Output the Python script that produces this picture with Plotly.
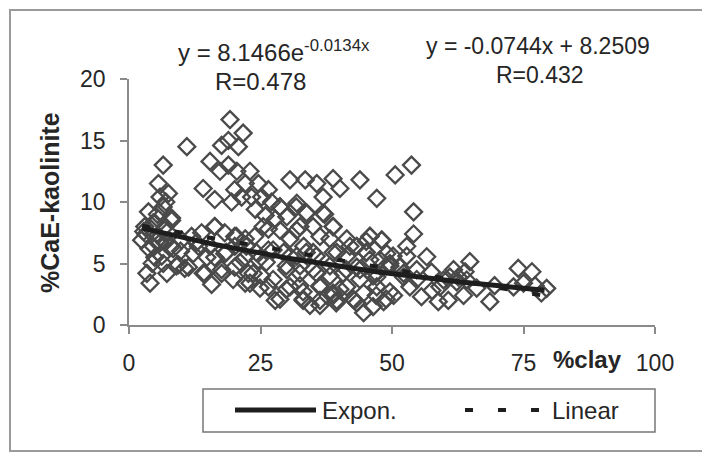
import numpy as np
import plotly.graph_objects as go

# Sample data: clay content (%) and CaE-kaolinite (%)
clay_pct = [
    # low-clay samples
    19.2, 21.7, 11.0, 18.9, 17.6, 20.8, 6.5, 15.4, 17.3, 18.9, 20.5, 23.0, 14.1, 16.3,
    5.6, 5.9, 7.5, 6.5, 8.1, 3.7, 4.9, 3.0, 2.4, 4.6, 6.8, 8.4, 4.9, 6.5, 9.4, 11.3,
    14.4, 3.4, 4.0, 15.7, 16.3, 13.8, 11.9, 18.2, 20.1, 22.1, 23.9, 20.1, 18.2, 16.3,
    22.1, 24.6, 26.5, 20.1, 22.7, 25.2, 17.6, 22.1, 26.5, 27.8, 20.1, 22.1, 24.6, 21.4,
    19.5, 23.3, 25.2, 26.5, 27.1, 24.0, 25.9, 27.8, 10.0, 13.2, 14.8, 26.5,
    3.2, 4.2, 5.5, 3.8, 5.2, 7.3, 4.4, 6.9, 5.4, 7.0, 2.8, 9.8, 12.2, 10.6,
    # mid-clay samples
    30.6, 33.5, 35.7, 38.8, 40.1, 43.9, 50.6, 53.7, 47.1, 54.1, 36.9, 36.9, 31.9, 33.8,
    28.7, 30.0, 38.8, 35.0, 31.9, 45.8, 48.1, 54.1, 52.8, 41.4, 43.3, 38.2, 36.3, 33.2,
    30.6, 29.4, 31.9, 35.0, 39.5, 41.4, 45.1, 47.7, 50.2, 30.0, 32.5, 35.7, 38.2, 40.7,
    43.9, 46.4, 48.9, 52.2, 54.7, 30.6, 33.1, 36.3, 38.8, 41.4, 44.6, 47.1, 49.6, 33.1,
    36.3, 39.5, 43.3, 44.6, 46.4, 45.1, 52.8,
    # infill of the dense band
    28.7, 31.8, 33.7, 37.2, 16.3, 20.4, 25.5, 28.7, 32.5, 38.8, 45.8, 48.0, 12.8, 15.4,
    18.5, 22.3, 24.2, 27.4, 30.6, 33.7, 35.6, 38.8, 42.0, 45.1, 9.0, 14.1, 17.6, 21.1,
    23.6, 26.1, 27.4, 29.9, 32.5, 35.0, 38.2, 41.3, 43.9, 47.0, 49.6, 7.2, 19.8, 23.0,
    24.9, 28.7, 29.9, 33.1, 34.4, 36.3, 38.8, 39.4, 42.6, 47.0, 48.9, 32.5, 36.3, 40.1,
    5.9, 8.1, 6.2, 8.1, 4.6,
    # high-clay samples
    56.6, 64.8, 63.9, 74.0, 76.6, 79.4, 78.4, 68.6, 73.1, 61.0, 59.1, 55.6, 58.8, 60.7,
    63.6, 66.1, 53.4, 50.3, 48.4, 42.9, 52.2, 54.7, 57.5, 61.7, 47.1, 49.6, 45.8, 43.3,
    51.5, 49.0, 59.8, 75.0, 77.2, 62.3, 64.2, 57.6, 62.6, 69.5,
]
caE_kaolinite = [
    16.7, 15.6, 14.5, 15.0, 14.6, 14.5, 13.0, 13.3, 12.5, 13.0, 12.5, 12.5, 11.1, 10.2,
    11.5, 10.4, 10.7, 9.6, 8.7, 9.2, 8.3, 8.0, 6.9, 6.4, 6.7, 6.2, 5.5, 5.0, 4.9, 4.7,
    4.2, 4.2, 3.4, 3.3, 8.0, 7.5, 7.2, 7.5, 7.2, 7.0, 7.2, 6.4, 5.8, 5.5,
    5.5, 5.3, 6.1, 4.7, 4.2, 4.0, 4.2, 3.4, 3.1, 2.0, 11.0, 11.5, 11.5, 10.4,
    10.0, 10.4, 10.4, 11.0, 10.0, 9.4, 8.9, 8.6, 6.9, 6.4, 5.5, 7.8,
    7.4, 7.8, 7.3, 6.2, 6.8, 7.6, 5.0, 8.0, 9.0, 10.0, 7.6, 6.0, 5.8, 4.6,
    11.8, 11.8, 11.5, 11.9, 11.1, 11.8, 12.2, 13.0, 10.3, 9.2, 10.4, 9.1, 9.9, 9.1,
    9.6, 8.8, 8.0, 8.0, 7.7, 7.2, 6.9, 7.4, 6.4, 7.0, 6.4, 7.0, 7.2, 6.4,
    7.0, 5.9, 5.6, 5.9, 5.9, 5.6, 5.9, 5.3, 5.6, 4.5, 4.8, 4.2, 4.8, 4.2,
    4.5, 4.0, 4.8, 4.2, 3.7, 3.1, 2.7, 3.1, 2.6, 3.1, 2.6, 3.1, 2.7, 2.0,
    1.6, 2.0, 1.8, 1.0, 1.5, 6.8, 5.6,
    9.6, 9.6, 9.1, 9.0, 8.0, 7.2, 8.0, 7.7, 8.0, 8.0, 7.2, 6.9, 6.7, 6.4,
    5.9, 6.4, 5.9, 6.1, 5.6, 5.9, 5.6, 5.9, 6.4, 5.9, 4.8, 4.2, 4.5, 5.1,
    4.2, 5.1, 3.7, 4.8, 4.2, 4.5, 4.0, 4.5, 3.7, 4.2, 4.8, 4.2, 3.7, 3.4,
    3.0, 2.1, 2.9, 2.1, 1.6, 2.0, 2.4, 1.8, 2.1, 2.4, 2.1, 3.2, 3.2, 2.9,
    6.7, 6.4, 5.6, 8.5, 8.3,
    5.55, 5.15, 4.33, 4.6, 4.33, 2.98, 2.6, 1.9, 3.1, 3.9, 3.1, 2.3, 1.9, 2.0,
    2.4, 3.0, 3.1, 2.4, 1.9, 2.0, 3.9, 4.5, 4.3, 4.5, 3.9, 5.0, 5.3, 4.7,
    4.7, 5.8, 3.66, 3.4, 3.2, 3.5, 3.66, 2.8, 3.9, 3.2,
]

# Fitted trend lines
exp_a, exp_b = 8.1466, -0.0134
lin_m, lin_c = -0.0744, 8.2509
x_ticks = [0, 25, 50, 75, 100]
y_ticks = [0, 5, 10, 15, 20]

trend_x = np.linspace(2.5, 79, 80)
exp_y = exp_a * np.exp(exp_b * trend_x)
lin_y = lin_m * trend_x + lin_c

W, H = 702, 453
L, R, T, B = 129, 655, 79, 325

def px(x):
    return (x - L) / (R - L)

def py(y):
    return (B - y) / (B - T)

FONT = "Liberation Sans, Arial, sans-serif"
TXT = "#262626"

fig = go.Figure()
fig.add_trace(go.Scatter(
    x=clay_pct, y=caE_kaolinite, mode="markers",
    marker=dict(symbol="diamond-open", size=13, color="#4a4a4a",
                line=dict(width=2.3, color="#4a4a4a")),
    showlegend=False, hoverinfo="skip",
))
fig.add_trace(go.Scatter(
    x=trend_x, y=lin_y, mode="lines",
    line=dict(color="#1e1e1e", width=4, dash="8px,25px"),
    showlegend=False, hoverinfo="skip",
))
fig.add_trace(go.Scatter(
    x=trend_x, y=exp_y, mode="lines",
    line=dict(color="#1e1e1e", width=5),
    showlegend=False, hoverinfo="skip",
))

annotations = [
    dict(x=px(274), y=py(51), text="y = 8.1466e<sup>-0.0134x</sup>",
         font=dict(size=24, color=TXT, family=FONT)),
    dict(x=px(260), y=py(81), text="R=0.478",
         font=dict(size=24, color=TXT, family=FONT)),
    dict(x=px(538), y=py(46), text="y = -0.0744x + 8.2509",
         font=dict(size=23, color=TXT, family=FONT)),
    dict(x=px(540), y=py(75), text="R=0.432",
         font=dict(size=23, color=TXT, family=FONT)),
    dict(x=px(50), y=py(203), text="<b>%CaE-kaolinite</b>", textangle=-90,
         font=dict(size=25, color=TXT, family=FONT)),
    dict(x=px(587), y=py(359), text="<b>%clay</b>",
         font=dict(size=24, color=TXT, family=FONT)),
    dict(x=px(320), y=py(410), text="Expon.", xanchor="left",
         font=dict(size=24, color=TXT, family=FONT)),
    dict(x=px(550), y=py(410), text="Linear", xanchor="left",
         font=dict(size=24, color=TXT, family=FONT)),
]
for a in annotations:
    a.setdefault("xanchor", "center")
    a.update(xref="paper", yref="paper", yanchor="middle", showarrow=False)

shapes = [
    # outer frame
    dict(type="rect", x0=px(10), x1=px(712), y0=py(451), y1=py(10),
         line=dict(color="#9a9a9a", width=2)),
    # legend box
    dict(type="rect", x0=px(203), x1=px(655), y0=py(432), y1=py(389),
         line=dict(color="#777777", width=1.5)),
    dict(type="line", x0=px(235), x1=px(316), y0=py(410), y1=py(410),
         line=dict(color="#1e1e1e", width=5)),
    dict(type="line", x0=px(465), x1=px(539), y0=py(410), y1=py(410),
         line=dict(color="#1e1e1e", width=4, dash="8px,25px")),
]
for s in shapes:
    s.update(xref="paper", yref="paper")

axis_common = dict(
    showgrid=False, zeroline=False, showline=True, linecolor="#8a8a8a",
    linewidth=1.5, ticks="outside", ticklen=7, tickcolor="#8a8a8a",
    tickwidth=1.5, tickfont=dict(size=23, color=TXT, family=FONT),
)
fig.update_layout(
    width=W, height=H,
    margin=dict(l=L, r=W - R, t=T, b=H - B),
    paper_bgcolor="white", plot_bgcolor="white",
    xaxis=dict(range=[0, 100], tickvals=x_ticks, ticklabelstandoff=10,
               **axis_common),
    yaxis=dict(range=[0, 20], tickvals=y_ticks, ticklabelstandoff=10,
               **axis_common),
    annotations=annotations, shapes=shapes, showlegend=False,
)
fig.write_html("out.html")
